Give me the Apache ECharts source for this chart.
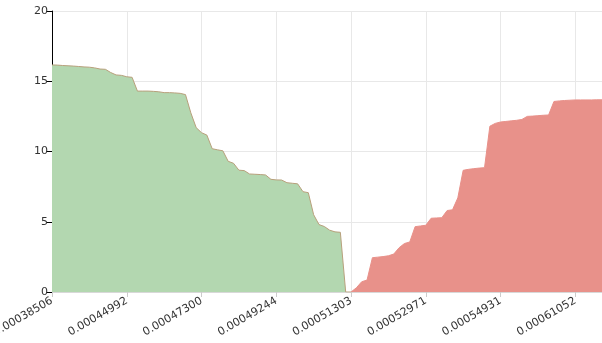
<!DOCTYPE html>
<html>
<head>
<meta charset="utf-8">
<script src="https://cdn.jsdelivr.net/npm/echarts@6/dist/echarts.min.js"></script>
<style>html,body{margin:0;padding:0;background:#fff}#c{width:602px;height:343px}</style>
</head>
<body>
<div id="c"></div>
<script>
var prices = [
"0.00038506","0.00039871","0.00040690","0.00041305","0.00041822","0.00042250","0.00042618","0.00042944","0.00043230","0.00043501",
"0.00043769","0.00044012","0.00044298","0.00044655","0.00044992","0.00045160","0.00045337","0.00045502","0.00045688","0.00045850",
"0.00046010","0.00046164","0.00046322","0.00046480","0.00046643","0.00046808","0.00046967","0.00047133","0.00047300","0.00047441",
"0.00047589","0.00047720","0.00047866","0.00048003","0.00048150","0.00048286","0.00048421","0.00048560","0.00048700","0.00048834",
"0.00048965","0.00049102","0.00049244","0.00049390","0.00049531","0.00049676","0.00049822","0.00049970","0.00050118","0.00050265",
"0.00050410","0.00050560","0.00050712","0.00050860","0.00051008","0.00051150","0.00051303","0.00051420","0.00051538","0.00051652",
"0.00051770","0.00051889","0.00052010","0.00052128","0.00052245","0.00052366","0.00052487","0.00052605","0.00052725","0.00052850",
"0.00052971","0.00053110","0.00053248","0.00053390","0.00053530","0.00053672","0.00053811","0.00053950","0.00054093","0.00054232",
"0.00054375","0.00054512","0.00054650","0.00054790","0.00054931","0.00055210","0.00055508","0.00055822","0.00056150","0.00056490",
"0.00056845","0.00057220","0.00057610","0.00058020","0.00058460","0.00058940","0.00059450","0.00060010","0.00061052","0.00061620",
"0.00062310","0.00063180","0.00064400","0.00066250"
];
var bids = [
16.16,16.15,16.12,16.10,16.08,16.05,16.02,16.00,15.95,15.87,
15.85,15.62,15.45,15.42,15.32,15.28,14.30,14.30,14.30,14.28,
14.25,14.19,14.19,14.17,14.14,14.05,12.75,11.70,11.34,11.17,
10.20,10.12,10.05,9.30,9.16,8.67,8.64,8.40,8.38,8.36,
8.33,8.02,7.98,7.97,7.78,7.74,7.70,7.14,7.07,5.50,
4.80,4.66,4.40,4.28,4.25,0,0
];
var asks = [
0,0.30,0.73,0.85,2.44,2.48,2.52,2.58,2.70,3.15,
3.45,3.56,4.65,4.70,4.75,5.25,5.27,5.29,5.80,5.85,
6.70,8.66,8.73,8.78,8.82,8.85,11.80,12.00,12.10,12.14,
12.18,12.22,12.28,12.50,12.52,12.55,12.58,12.60,13.56,13.60,
13.63,13.65,13.67,13.67,13.67,13.67,13.68,13.68
];
var yTicks = [0, 5, 10, 15, 20];

var askStart = prices.length - asks.length;
var bidData = prices.map(function (p, i) { return i < bids.length ? bids[i] : '-'; });
var askData = prices.map(function (p, i) { return i >= askStart ? asks[i - askStart] : '-'; });

var chart = echarts.init(document.getElementById('c'), null, {renderer: 'canvas'});
chart.setOption({
  animation: false,
  textStyle: {fontFamily: 'DejaVu Sans'},
  grid: {left: 52, right: 0, top: 11, bottom: 51, containLabel: false, outerBoundsMode: 'none'},
  xAxis: {
    type: 'category',
    boundaryGap: false,
    data: prices,
    axisLine: {lineStyle: {color: '#d8d8d8'}},
    axisTick: {show: true, interval: 13, length: 5, lineStyle: {color: '#cccccc'}},
    axisLabel: {interval: 13, rotate: 30, color: '#333', fontSize: 11, margin: 8, fontFamily: 'DejaVu Sans'},
    splitLine: {show: true, interval: 13, lineStyle: {color: '#e8e8e8'}}
  },
  yAxis: {
    type: 'value',
    min: yTicks[0], max: yTicks[yTicks.length - 1], interval: 5,
    axisLine: {show: true, lineStyle: {color: '#000'}},
    axisTick: {show: true, length: 6, lineStyle: {color: '#000'}},
    axisLabel: {color: '#333', fontSize: 11, margin: 4, fontFamily: 'DejaVu Sans'},
    splitLine: {show: true, lineStyle: {color: '#e8e8e8'}}
  },
  series: [
    {
      type: 'line', data: bidData, symbol: 'none',
      lineStyle: {color: '#b8a07c', width: 1},
      itemStyle: {color: '#b3d7b0'},
      areaStyle: {color: '#b3d7b0', opacity: 1}
    },
    {
      type: 'line', data: askData, symbol: 'none',
      lineStyle: {color: '#e8918a', width: 1},
      itemStyle: {color: '#e8918a'},
      areaStyle: {color: '#e8918a', opacity: 1}
    }
  ]
});
</script>
</body>
</html>
